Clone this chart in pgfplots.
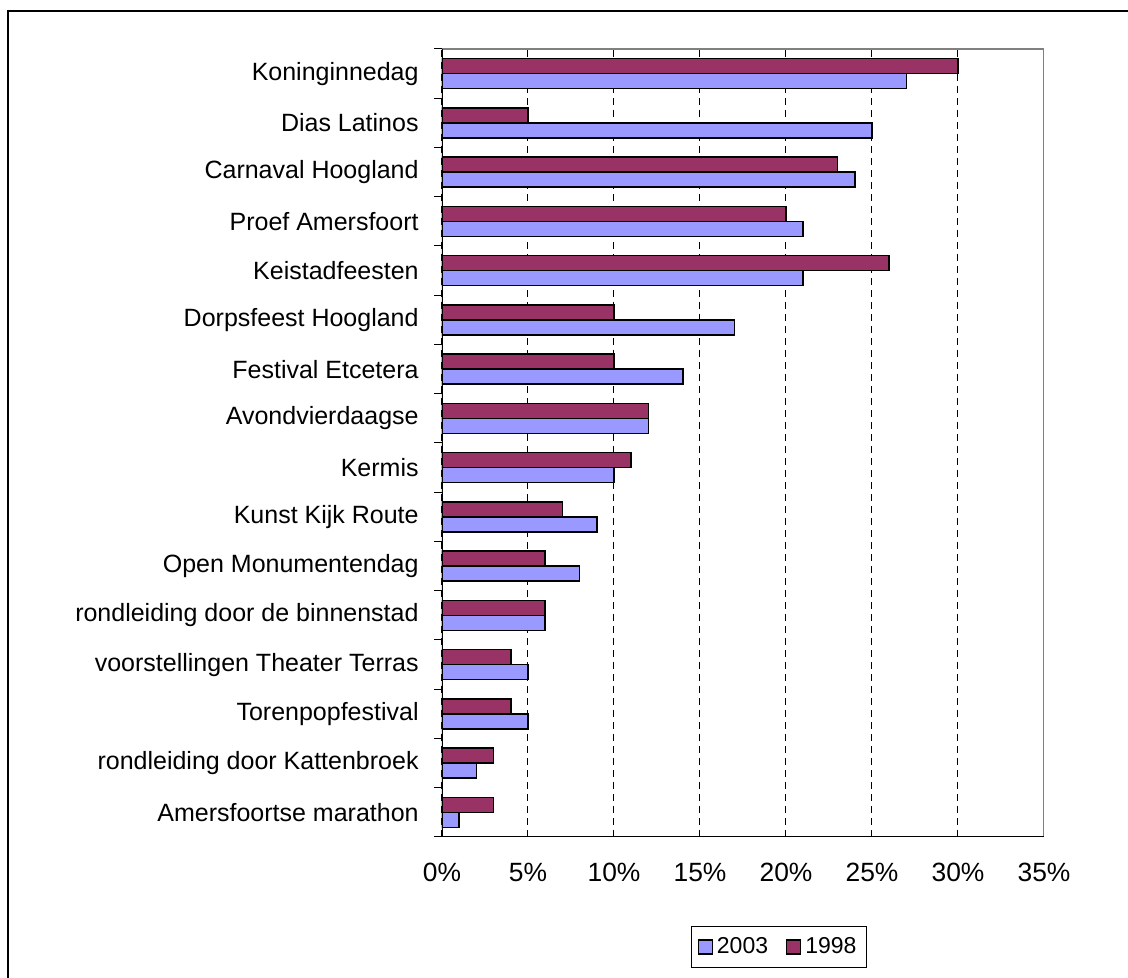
\documentclass[border=0pt]{standalone}
\usepackage{fontspec}
\setmainfont{Liberation Sans}
\usepackage{pgfplots}
\pgfplotsset{compat=1.18}
\definecolor{cA}{HTML}{9999FF}
\definecolor{cB}{HTML}{993366}
\definecolor{pgray}{HTML}{808080}
\begin{document}
\begin{tikzpicture}[x=1pt,y=1pt]
\useasboundingbox (-221,-70.5) rectangle (343,418.5);
\draw[line width=1pt] (-217,-120) -- (-217,413) -- (400,413);
\begin{axis}[
  at={(0,0)}, anchor=south west, scale only axis,
  width=301pt, height=394pt,
  xmin=0, xmax=35, ymin=-0.5, ymax=15.5,
  xbar, bar width=7.5pt,
  axis line style={draw=none},
  xtick={0,5,...,35},
  xticklabels={0\%,5\%,10\%,15\%,20\%,25\%,30\%,35\%},
  xmajorgrids,
  major grid style={black, line width=0.5pt, dash pattern=on 3.5pt off 2.5pt},
  ytick={0,...,15},
  yticklabels={Amersfoortse marathon, rondleiding door Kattenbroek, Torenpopfestival, voorstellingen Theater Terras, rondleiding door de binnenstad, Open Monumentendag, Kunst Kijk Route, Kermis, Avondvierdaagse, Festival Etcetera, Dorpsfeest Hoogland, Keistadfeesten, Proef Amersfoort, Carnaval Hoogland, Dias Latinos, Koninginnedag},
  minor ytick={-0.5,0.5,...,15.5},
  ytick pos=left,
  major tick length=0pt, minor tick length=4pt, tick align=outside,
  minor tick style={black, line width=0.5pt},
  major tick style={draw=none},
  yticklabel style={font=\fontsize{12.5}{14}\selectfont, anchor=east, inner sep=0pt, xshift=-11.5pt},
  xticklabel style={font=\fontsize{13.2}{15}\selectfont, anchor=north, inner sep=0pt, yshift=-13pt},
  legend columns=2,
  legend style={at={(0.56,0)}, anchor=center, yshift=-55pt, draw=black, line width=0.5pt,
    font=\fontsize{11.5}{13}\selectfont, inner xsep=3pt, inner ysep=3.5pt,
    /tikz/every even column/.append style={column sep=7pt}},
  legend image code/.code={\draw[#1, line width=0.6pt] (0pt,-3.5pt) rectangle (7pt,3.5pt);},
]
\addplot[fill=cA, draw=black, line width=0.8pt, bar shift=-3.75pt] coordinates {
 (1,0) (2,1) (5,2) (5,3) (6,4) (8,5) (9,6) (10,7) (12,8) (14,9) (17,10) (21,11) (21,12) (24,13) (25,14) (27,15)};
\addlegendentry{2003}
\addplot[fill=cB, draw=black, line width=0.8pt, bar shift=3.75pt] coordinates {
 (3,0) (3,1) (4,2) (4,3) (6,4) (6,5) (7,6) (11,7) (12,8) (10,9) (10,10) (26,11) (20,12) (23,13) (5,14) (30,15)};
\addlegendentry{1998}
\draw[pgray, line width=0.75pt] (rel axis cs:0,1) -- (rel axis cs:1,1) -- (rel axis cs:1,0);
\draw[black, line width=0.75pt] (rel axis cs:0,1) -- (rel axis cs:0,0) -- (rel axis cs:1,0);
\end{axis}
\end{tikzpicture}
\end{document}
